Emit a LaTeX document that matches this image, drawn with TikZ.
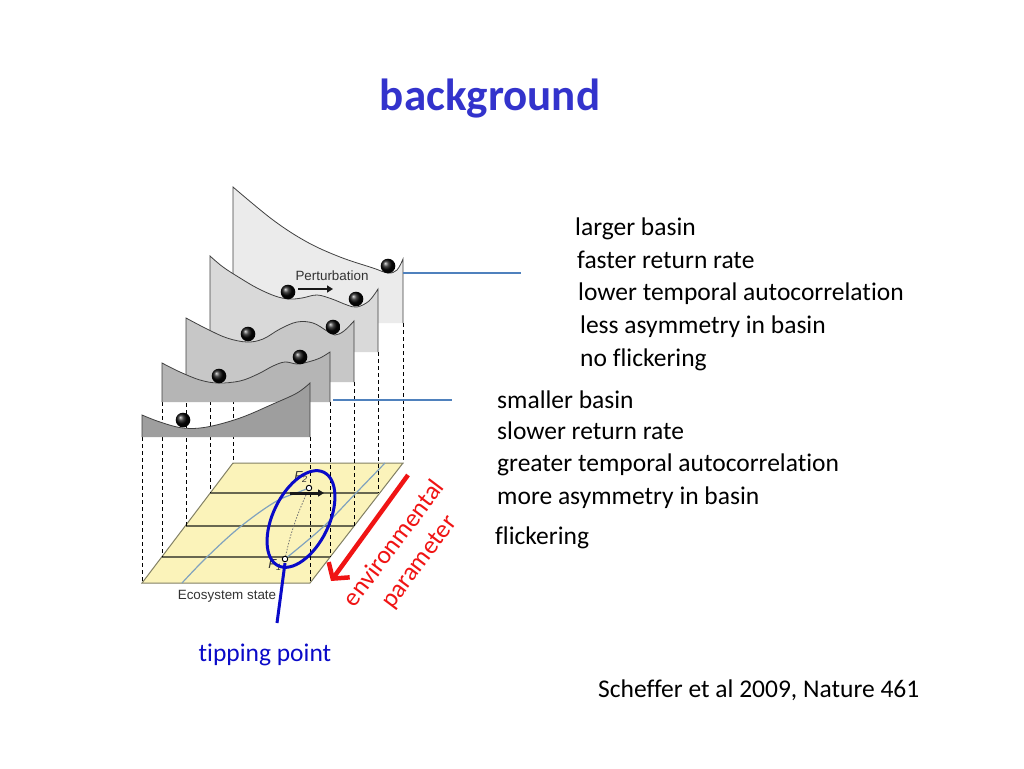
\documentclass[tikz,border=0pt]{standalone}
\usepackage{fontspec}
\setmainfont{Carlito}[Ligatures={NoCommon,NoContextual}]
\newfontfamily\helv{Liberation Sans}
\usetikzlibrary{arrows.meta}
\definecolor{titleblue}{RGB}{51,51,204}
\definecolor{tipblue}{RGB}{10,10,200}
\definecolor{linkblue}{RGB}{79,129,189}
\definecolor{curveblue}{RGB}{128,162,190}
\definecolor{planefill}{RGB}{251,243,186}
\definecolor{planeedge}{RGB}{130,128,100}
\definecolor{envred}{RGB}{240,20,20}
\newcommand\mypanel[5]{%
  \fill[#1] (#2,#4) -- plot[smooth,tension=0.6] coordinates {#5} -- (#3,#4) -- cycle;
  \draw[paneledge] (#2,#4) -- plot[smooth,tension=0.6] coordinates {#5} -- (#3,#4);}
\begin{document}
\begin{tikzpicture}[x=1pt,y=-1pt,
  paneledge/.style={draw=black!75,line width=0.8pt},
  ballstyle/.style={ball color=black!97},
  dashline/.style={black,line width=0.7pt,dash pattern=on 4pt off 3pt},
  bodytext/.style={font=\fontsize{25.5}{31}\selectfont,anchor=base west,inner sep=0pt},
  smalltext/.style={font=\helv\fontsize{13.4}{15}\selectfont,text=black!80,inner sep=0pt},
  link/.style={linkblue,line width=2.5pt},
  fpoint/.style={circle,draw=black,fill=white,line width=0.9pt,minimum size=5.5pt,inner sep=0pt}]
\useasboundingbox (0,0) rectangle (1024,768);
\fill[white] (0,0) rectangle (1024,768);

% title
\node[font=\bfseries\fontsize{45}{50}\selectfont,text=titleblue,anchor=base,inner sep=0pt] (title) at (490,110) {background};

% plane
\fill[planefill] (142,583) -- (310,583) -- (403,463) -- (233,463) -- cycle;
\draw[planeedge,line width=1pt] (142,583) -- (310,583) -- (403,463) -- (233,463) -- cycle;
\draw[planeedge!80!black,line width=1.6pt] (210,493) -- (378,493);
\draw[planeedge!80!black,line width=1.6pt] (186,526) -- (354,526);
\draw[planeedge!80!black,line width=1.6pt] (162,557) -- (330,557);

% dashed drop lines
\draw[dashline] (142,437) -- (142,583);
\draw[dashline] (162,402) -- (162,557);
\draw[dashline] (186,382) -- (186,526);
\draw[dashline] (210,352) -- (210,493);
\draw[dashline] (233,323) -- (233,463);
\draw[dashline] (310,437) -- (310,583);
\draw[dashline] (330,402) -- (330,557);
\draw[dashline] (354,382) -- (354,526);
\draw[dashline] (378,352) -- (378,493);
\draw[dashline] (403,323) -- (403,463);

% landscape panels (back to front)
\mypanel{black!8}{233}{403}{323}{(233,187) (273,220) (307,242) (340,257) (373,268) (388,273) (397,270) (403,259)}
\mypanel{black!15}{210}{378}{352}{(210,256) (223,267) (240,278) (257,288) (275,296) (289,299) (302,298) (317,295) (332,299) (347,305) (357,307) (369,301) (378,289)}
\mypanel{black!22}{186}{354}{382}{(186,318) (207,329) (227,338) (247,342) (263,339) (280,329) (297,322) (313,323) (327,331) (335,335) (344,331) (354,321)}
\mypanel{black!29}{162}{330}{402}{(162,363) (180,372) (200,380) (218,383) (240,381) (258,374) (273,366) (285,362) (297,364) (308,362) (320,358) (330,352)}
\mypanel{black!38}{142}{310}{437}{(142,415) (160,422) (183,428) (207,427) (240,418) (273,404) (297,393) (310,383)}

% balls
\shade[ballstyle] (388,266) circle (7.3);
\shade[ballstyle] (288,292) circle (7.3);
\shade[ballstyle] (356,299) circle (7.3);
\shade[ballstyle] (248,334) circle (7.3);
\shade[ballstyle] (333,327) circle (7.3);
\shade[ballstyle] (219,376) circle (7.3);
\shade[ballstyle] (300,357) circle (7.3);
\shade[ballstyle] (183,420) circle (7.3);

% perturbation
\node[smalltext] (pert) at (332,276) {Perturbation};
\coordinate (pa) at (298,289);
\coordinate (pb) at (333,289);
\draw[black!90,line width=2.6pt,-{Triangle[length=6pt,width=7pt]}] (pa) -- (pb);

% curves on plane
\coordinate (F2) at (309,488);
\coordinate (F1) at (285,559);
\draw[curveblue,line width=1.2pt] plot[smooth,tension=0.6] coordinates {(182,583) (207,557) (240,527) (275,502) (299,492) (309,488)};
\draw[curveblue,line width=1.2pt] plot[smooth,tension=0.6] coordinates {(285,559) (323,527) (357,492) (385,463)};
\draw[black!55,line width=0.8pt,dash pattern=on 1.5pt off 1.5pt] plot[smooth,tension=0.6] coordinates {(285,559) (290,538) (298,514) (309,488)};
\coordinate (aa) at (290,493);
\coordinate (ab) at (324,493);
\draw[black!90,line width=3pt,-{Triangle[length=6pt,width=7pt]}] (aa) -- (ab);
\node[fpoint] (f2pt) at (F2) {};
\node[fpoint] (f1pt) at (F1) {};
\node[font=\helv\itshape\fontsize{13}{15}\selectfont,text=black!80,inner sep=0pt] (f2lab) at (301,477) {F\textsubscript{2}};
\node[font=\helv\itshape\fontsize{13}{15}\selectfont,text=black!80,inner sep=0pt] (f1lab) at (275,565) {F\textsubscript{1}};

\node[smalltext] (eco) at (227,596) {Ecosystem state};

% tipping point ellipse
\draw[tipblue,line width=3pt,rotate around={64:(301,519)}] (301,519) ellipse [x radius=52, y radius=28];
\coordinate (tipA) at (285,563);
\node[font=\fontsize{25.5}{31}\selectfont,text=tipblue,anchor=base,inner sep=0pt] (tip) at (265,661) {tipping point};
\coordinate (tipB) at (277,623);
\draw[tipblue,line width=3pt] (tipA) -- (tipB);

% environmental parameter arrow
\coordinate (ea) at (408,475);
\coordinate (eb) at (331,581);
\draw[envred,line width=4.5pt,-{Straight Barb[length=11pt,width=26pt,line width=4.5pt]}] (ea) -- (eb);
\node[font=\fontsize{25.5}{31}\selectfont,text=envred,rotate=53,align=center,inner sep=0pt] (env) at (407,553) {environmental\\parameter};

% connector lines
\coordinate (l1a) at (403,273);
\coordinate (l1b) at (521,273);
\draw[link] (l1a) -- (l1b);
\coordinate (l2a) at (333,400);
\coordinate (l2b) at (452,400);
\draw[link] (l2a) -- (l2b);

% texts
\node[bodytext] (t1) at (575,235) {larger basin};
\node[bodytext] (t2) at (577,268) {faster return rate};
\node[bodytext] (t3) at (578,300) {lower temporal autocorrelation};
\node[bodytext] (t4) at (580,333) {less asymmetry in basin};
\node[bodytext] (t5) at (580,366) {no flickering};
\node[bodytext] (t6) at (497,408) {smaller basin};
\node[bodytext] (t7) at (497,439) {slower return rate};
\node[bodytext] (t8) at (497,471) {greater temporal autocorrelation};
\node[bodytext] (t9) at (497,504) {more asymmetry in basin};
\node[bodytext] (t10) at (495,544) {flickering};
\node[bodytext] (ref) at (598,697) {Scheffer et al 2009, Nature 461};
\end{tikzpicture}
\end{document}
